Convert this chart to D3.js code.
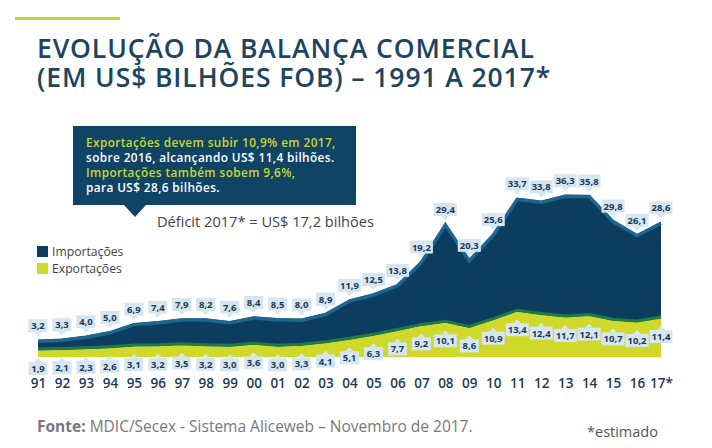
<!DOCTYPE html>
<html><head><meta charset="utf-8">
<script src="https://cdn.jsdelivr.net/npm/d3@7"></script>
<style>body{margin:0;background:#fff}svg{display:block}</style>
</head><body>
<svg id="c" width="712" height="448"></svg>
<script>
const years = [1991,1992,1993,1994,1995,1996,1997,1998,1999,2000,2001,2002,2003,2004,2005,2006,2007,2008,2009,2010,2011,2012,2013,2014,2015,2016,2017];
const yearLabels = ["91","92","93","94","95","96","97","98","99","00","01","02","03","04","05","06","07","08","09","10","11","12","13","14","15","16","17*"];
const importacoes = [3.2,3.3,4.0,5.0,6.9,7.4,7.9,8.2,7.6,8.4,8.5,8.0,8.9,11.9,12.5,13.8,19.2,29.4,20.3,25.6,33.7,33.8,36.3,35.8,29.8,26.1,28.6];
const exportacoes = [1.9,2.1,2.3,2.6,3.1,3.2,3.5,3.2,3.0,3.6,3.0,3.3,4.1,5.1,6.3,7.7,9.2,10.1,8.6,10.9,13.4,12.4,11.7,12.1,10.7,10.2,11.4];
const seriesNames = ["Importações","Exportações"];

const fmt = v => v.toFixed(1).replace(".", ",");
const svg = d3.select("#c");
const font = "'Open Sans', sans-serif";
const navy = "#0d3d5e", yellow = "#d0d82a", labelBg = "#d5e6f1", txt = "#1c3a55";

const data = years.map((y,i)=>({year:y, exp:exportacoes[i], imp:importacoes[i]}));
const stack = d3.stack().keys(["exp","imp"])(data);

const x = d3.scaleLinear().domain([1991,2017]).range([38,661]);
const y = d3.scaleLinear().domain([0,50]).range([357,188]);

// top accent line
svg.append("rect").attr("x",15).attr("y",17).attr("width",105).attr("height",3).attr("fill","#c5d42c");

// title
const title = svg.append("text").attr("font-family",font).attr("font-weight",600)
  .attr("font-size",26.5).attr("letter-spacing",0.9).attr("fill","#1b4560");
title.append("tspan").attr("x",37).attr("y",58).text("EVOLUÇÃO DA BALANÇA COMERCIAL");
title.append("tspan").attr("x",37).attr("y",87).text("(EM US$ BILHÕES FOB) – 1991 A 2017*");

// areas
const area = d3.area().x(d=>x(d.data.year)).y0(d=>y(d[0])).y1(d=>y(d[1]));
const line = d3.line().x(d=>x(d.data.year)).y(d=>y(d[1]));

svg.append("path").datum(stack[1]).attr("d",area).attr("fill",navy);
svg.append("path").datum(stack[0]).attr("d",area).attr("fill",yellow);
svg.append("path").datum(stack[0]).attr("d",line).attr("fill","none").attr("stroke","#1f7a45").attr("stroke-width",3).attr("transform","translate(0,-1.5)");
svg.append("path").datum(stack[1]).attr("d",line).attr("fill","none").attr("stroke","#1b6791").attr("stroke-width",3.5).attr("transform","translate(0,1.5)");

// x axis labels
const xAxis = d3.axisBottom(x).tickValues(years).tickFormat((d,i)=>yearLabels[i]).tickSize(0).tickPadding(0);
const gx = svg.append("g").attr("transform","translate(0,378)").call(xAxis);
gx.select(".domain").remove();
gx.selectAll("text").attr("font-family",font).attr("font-weight",600).attr("font-size",13.5).attr("fill",txt);

// value labels
function label(cx, cy, text, dir){
  const w = text.length>3 ? 23 : 19, h = 13;
  const g = svg.append("g");
  g.append("rect").attr("x",cx-w/2).attr("y",cy-h/2).attr("width",w).attr("height",h).attr("fill",labelBg);
  const py = dir<0 ? cy+h/2 : cy-h/2;
  g.append("path").attr("d",`M${cx-4},${py}L${cx},${py-dir*4}L${cx+4},${py}Z`).attr("fill",labelBg);
  g.append("text").attr("x",cx).attr("y",cy+3.5).attr("text-anchor","middle").attr("font-family",font)
    .attr("font-weight",700).attr("font-size",9.5).attr("fill",txt).text(text);
}
stack[1].forEach((d,i)=>label(x(d.data.year), y(d[1])-14, fmt(importacoes[i]), -1));
stack[0].forEach((d,i)=>label(x(d.data.year), y(d[1])+18, fmt(exportacoes[i]), 1));

// callout box
svg.append("rect").attr("x",73).attr("y",126).attr("width",283).attr("height",79).attr("fill","#0f4467");
svg.append("path").attr("d","M124,205L135,217L146,205Z").attr("fill","#0f4467");
const lines = [
  ["Exportações devem subir 10,9% em 2017,","#c9d72c"],
  ["sobre 2016, alcançando US$ 11,4 bilhões.","#ffffff"],
  ["Importações também sobem 9,6%,","#c9d72c"],
  ["para US$ 28,6 bilhões.","#ffffff"]
];
lines.forEach((l,i)=>svg.append("text").attr("x",86).attr("y",147+i*15).attr("font-family",font)
  .attr("font-weight",600).attr("font-size",11.8).attr("letter-spacing",0.4).attr("fill",l[1]).text(l[0]));

svg.append("text").attr("x",157).attr("y",227).attr("font-family",font).attr("font-size",14.6)
  .attr("fill","#444").text("Déficit 2017* = US$ 17,2 bilhões");

// legend
[[navy,246,seriesNames[0]],[yellow,263,seriesNames[1]]].forEach(l=>{
  svg.append("rect").attr("x",37).attr("y",l[1]).attr("width",11).attr("height",11).attr("fill",l[0]);
  svg.append("text").attr("x",52).attr("y",l[1]+10).attr("font-family",font).attr("font-size",12.2)
    .attr("fill","#444").text(l[2]);
});

// footer
const f = svg.append("text").attr("x",37).attr("y",432).attr("font-family",font).attr("font-size",15.5).attr("fill","#777");
f.append("tspan").attr("font-weight",700).text("Fonte:");
f.append("tspan").text(" MDIC/Secex  - Sistema Aliceweb – Novembro de 2017.");
svg.append("text").attr("x",587).attr("y",437).attr("font-family",font).attr("font-size",14.5).attr("fill","#555").text("*estimado");
</script>
</body></html>
